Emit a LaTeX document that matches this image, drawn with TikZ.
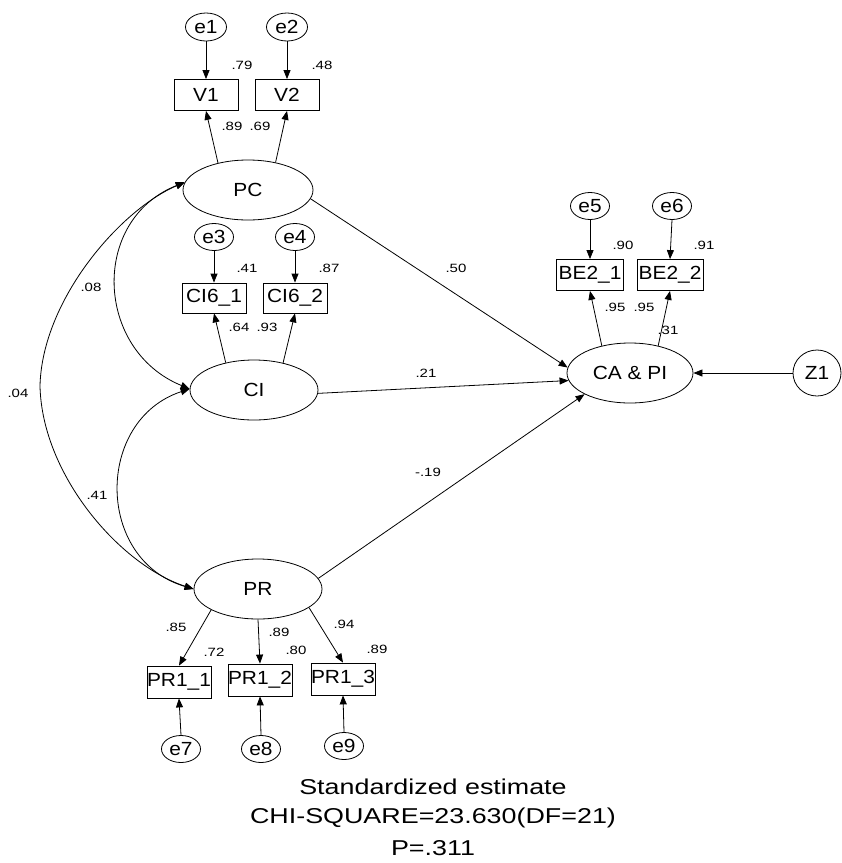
\documentclass[tikz,border=0pt]{standalone}
\usepackage{fontspec}
\setmainfont{Liberation Sans}
\newfontfamily\lblfont[FakeStretch=1.1]{Liberation Sans}
\newfontfamily\numfont[FakeStretch=1.25]{Liberation Sans}
\usetikzlibrary{shapes.geometric,arrows.meta}
\begin{document}
\begin{tikzpicture}[x=1pt,y=-1pt,
  lv/.style={ellipse,draw,line width=0.8pt,minimum width=128pt,minimum height=60pt,inner sep=0pt,font=\lblfont\fontsize{19}{22}\selectfont},
  ov/.style={rectangle,draw,line width=0.8pt,minimum width=64pt,minimum height=31pt,inner sep=0pt,font=\lblfont\fontsize{19}{22}\selectfont},
  err/.style={ellipse,draw,line width=0.8pt,minimum width=39pt,minimum height=27pt,inner sep=0pt,font=\lblfont\fontsize{19}{22}\selectfont},
  est/.style={inner sep=0pt,font=\numfont\fontsize{12}{14}\selectfont},
  note/.style={inner sep=0pt,anchor=base,font=\numfont\fontsize{21.5}{26}\selectfont},
  arr/.style={-{Triangle[length=9pt,width=7pt]},line width=0.8pt},
  cov/.style={{Triangle[length=9pt,width=7pt]}-{Triangle[length=9pt,width=7pt]},line width=0.8pt}
]
\useasboundingbox (0,0) rectangle (842,863);
% latent variables
\node[lv,minimum width=130pt] (PC) at (248,190) {PC};
\node[lv] (CI) at (254,390) {CI};
\node[lv,minimum width=126pt] (CAPI) at (630,373) {CA \& PI};
\node[lv] (PR) at (258,589) {PR};
% observed
\node[ov] (V1) at (206,95) {V1};
\node[ov] (V2) at (287,95) {V2};
\node[ov,minimum height=30pt] (CI61) at (214,298) {CI6\_1};
\node[ov,minimum height=30pt] (CI62) at (295,298) {CI6\_2};
\node[ov,minimum width=67pt] (BE21) at (590,275) {BE2\_1};
\node[ov,minimum width=66pt] (BE22) at (670,275) {BE2\_2};
\node[ov,minimum height=32pt] (PR11) at (179,682) {PR1\_1};
\node[ov,minimum height=32pt] (PR12) at (260,680) {PR1\_2};
\node[ov,minimum height=32pt] (PR13) at (343,679) {PR1\_3};
% errors
\node[err,minimum width=41pt,minimum height=28pt] (e1) at (206,27) {e1};
\node[err,minimum width=41pt,minimum height=28pt] (e2) at (287,27) {e2};
\node[err] (e3) at (214,237) {e3};
\node[err] (e4) at (295,237) {e4};
\node[err] (e5) at (590,206) {e5};
\node[err] (e6) at (672,206) {e6};
\node[err] (e7) at (181,749) {e7};
\node[err] (e8) at (261,749) {e8};
\node[err] (e9) at (344,746) {e9};
\node[err,minimum width=48pt,minimum height=46pt] (Z1) at (817,373) {Z1};
% error arrows
\draw[arr] (e1.south) -- (V1.north);
\draw[arr] (e2.south) -- (V2.north);
\draw[arr] (e3.south) -- (CI61.north);
\draw[arr] (e4.south) -- (CI62.north);
\draw[arr] (e5.south) -- (BE21.north);
\draw[arr] (e6.south) -- (BE22.north);
\draw[arr] (e7.north) -- (PR11.south);
\draw[arr] (e8.north) -- (PR12.south);
\draw[arr] (e9.north) -- (PR13.south);
\draw[arr] (Z1.west) -- (CAPI.east);
% loadings
\draw[arr] (PC.138) -- (V1.south);
\draw[arr] (PC.45) -- (V2.south);
\draw[arr] (CI.136) -- (CI61.south);
\draw[arr] (CI.43) -- (CI62.south);
\draw[arr] (CAPI.136) -- (BE21.south);
\draw[arr] (CAPI.44) -- (BE22.south);
\draw[arr] (PR.204) -- (PR11.north);
\draw[arr] (PR.south) -- (PR12.north);
\draw[arr] (PR.340) -- (PR13.north);
% structural paths
\draw[arr] (PC.352) -- (CAPI.175);
\draw[arr] (CI.357) -- (CAPI.187);
\draw[arr] (PR.10) -- (CAPI.205);
% covariances
\coordinate (mid) at (40,386);
\draw[cov] (PC.173) .. controls (90,220) and (95,350) .. (CI.179);
\draw[cov] (CI.179) .. controls (95,420) and (95,560) .. (PR.180);
\draw[cov] (PC.173) .. controls (120,210) and (42,300) .. (mid) .. controls (42,475) and (120,565) .. (PR.180);
% estimates
\node[est] (n1) at (242,65) {.79};
\node[est] (n2) at (322,65) {.48};
\node[est] (n3) at (232,126) {.89};
\node[est] (n4) at (260,126) {.69};
\node[est] (n5) at (247,268) {.41};
\node[est] (n6) at (329,268) {.87};
\node[est] (n7) at (239,327) {.64};
\node[est] (n8) at (267,327) {.93};
\node[est] (n9) at (456,268) {.50};
\node[est] (n10) at (426,373) {.21};
\node[est] (n11) at (428,472) {-.19};
\node[est] (n12) at (623,245) {.90};
\node[est] (n13) at (704,245) {.91};
\node[est] (n14) at (615,307) {.95};
\node[est] (n15) at (644,307) {.95};
\node[est] (n16) at (668,330) {.31};
\node[est] (n17) at (91,287) {.08};
\node[est] (n18) at (18,393) {.04};
\node[est] (n19) at (97,495) {.41};
\node[est] (n20) at (176,627) {.85};
\node[est] (n21) at (214,652) {.72};
\node[est] (n22) at (279,632) {.89};
\node[est] (n23) at (296,650) {.80};
\node[est] (n24) at (344,624) {.94};
\node[est] (n25) at (377,649) {.89};
% notes
\node[note] (t1) at (433,794) {Standardized estimate};
\node[note] (t2) at (433,823) {CHI-SQUARE=23.630(DF=21)};
\node[note] (t3) at (433,855) {P=.311};
\end{tikzpicture}
\end{document}
